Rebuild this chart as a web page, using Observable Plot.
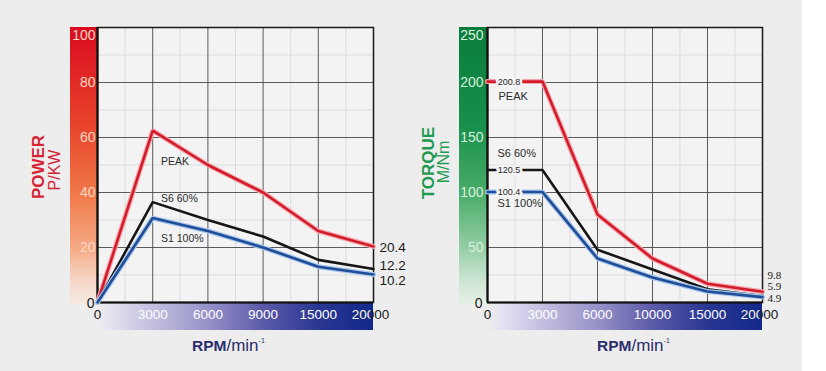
<!DOCTYPE html>
<html>
<head>
<meta charset="utf-8">
<script src="https://cdn.jsdelivr.net/npm/d3@7"></script>
<script src="https://cdn.jsdelivr.net/npm/@observablehq/plot@0.6"></script>
<style>
  body { margin: 0; background: #ffffff; font-family: "Liberation Sans", Arial, sans-serif; }
  #wrap { position: relative; width: 826px; height: 371px; overflow: hidden; }
  #bg { position: absolute; left: 0; top: 0; width: 802px; height: 371px; background: #ededed; }
  .panel { position: absolute; top: 0; }
  .rot { position: absolute; white-space: nowrap; transform: translate(-50%, -50%) rotate(-90deg); line-height: 1; }
  .rpm { position: absolute; white-space: nowrap; color: #2b2d6e; line-height: 18px; height: 18px; }
  .rpm b { font-size: 15.5px; font-weight: bold; }
  .rpm span { font-size: 17px; }
  .rpm sup { font-size: 7px; vertical-align: baseline; position: relative; top: -8px; }
</style>
</head>
<body>
<div id="wrap">
  <div id="bg"></div>
  <div id="left" class="panel" style="left:0px"></div>
  <div id="right" class="panel" style="left:413px"></div>
  <div class="rot" style="left:38px; top:167px; color:#d62435; font-weight:bold; font-size:17px;">POWER</div>
  <div class="rot" style="left:54.5px; top:170px; color:#d62435; font-size:16px;">P/KW</div>
  <div class="rot" style="left:428px; top:163px; color:#1f9a52; font-weight:bold; font-size:17px;">TORQUE</div>
  <div class="rot" style="left:444px; top:162px; color:#1f9a52; font-size:16px;">M/Nm</div>
  <div class="rpm" style="left:192px; top:337px;"><b>RPM</b><span>/min</span><sup>-1</sup></div>
  <div class="rpm" style="left:597px; top:337px;"><b>RPM</b><span>/min</span><sup>-1</sup></div>
</div>
<script>
// ---------- data ----------
const powerXLabels = ["0", "3000", "6000", "9000", "15000", "20000"];
const powerYTicks = [0, 20, 40, 60, 80, 100];
const powerPeak = [0, 62.5, 50, 40, 26, 20.4];
const powerS6 = [0, 36.5, 30, 24, 15.5, 12.2];
const powerS1 = [0, 30.7, 26, 20, 13, 10.2];
const powerNames = ["PEAK", "S6 60%", "S1 100%"];
const powerEndLabels = ["20.4", "12.2", "10.2"];

const torqueXLabels = ["0", "3000", "6000", "10000", "15000", "20000"];
const torqueYTicks = [0, 50, 100, 150, 200, 250];
const torquePeak = [200.8, 200.8, 80, 40, 17, 9.8];
const torqueS6 = [120.5, 120.5, 48, 30, 12, 5.9];
const torqueS1 = [100.4, 100.4, 40, 22.7, 10, 4.9];
const torqueNames = ["PEAK", "S6 60%", "S1 100%"];
const torqueEndLabels = ["9.8", "5.9", "4.9"];
const torqueInlineLabels = ["200.8", "120.5", "100.4"];

// ---------- styling ----------
const seriesColors = ["#d21c2a", "#161616", "#1f4d98"];
const haloColors = ["#f4a7b0", null, "#a9c6ec"];
const FONT = "Liberation Sans, Arial, sans-serif";
const PLOT_BG = "#f3f3f3";

function toPts(vals) { return vals.map((v, i) => ({i, v})); }

function panel(cfg) {
  const W = 413, H = 371;
  const {xLabels, yTicks, seriesVals, mL, mR, id} = cfg;
  const n = xLabels.length - 1;
  const yMax = yTicks[yTicks.length - 1];
  const yStep = yTicks[1] - yTicks[0];
  const marks = [
    Plot.frame({fill: PLOT_BG}),
    Plot.ruleX(d3.range(0.5, n, 1), {stroke: "#d2d2d2", strokeWidth: 0.7}),
    Plot.ruleY(d3.range(yStep / 2, yMax, yStep), {stroke: "#d2d2d2", strokeWidth: 0.7}),
    Plot.ruleX(d3.range(1, n), {stroke: "#4a4a4a", strokeWidth: 0.9}),
    Plot.ruleY(yTicks.slice(1, -1), {stroke: "#4a4a4a", strokeWidth: 0.9}),
    Plot.frame({stroke: "#1a1a1a", strokeWidth: 1.5}),
    Plot.ruleX([0], {stroke: "#111", strokeWidth: 2.2}),
    Plot.ruleY([0], {stroke: "#111", strokeWidth: 2.2})
  ];
  seriesVals.forEach((vals, k) => {
    if (haloColors[k]) marks.push(Plot.line(toPts(vals), {x: "i", y: "v", stroke: haloColors[k], strokeWidth: 5, strokeLinejoin: "miter"}));
    marks.push(Plot.line(toPts(vals), {x: "i", y: "v", stroke: seriesColors[k], strokeWidth: 2.6, strokeLinejoin: "miter"}));
  });
  cfg.names.forEach((name, k) => {
    marks.push(Plot.text([name], {x: () => cfg.namePos[k][0], y: () => cfg.namePos[k][1], text: d => d,
      textAnchor: "start", fill: "#2a2a2a", fontSize: cfg.nameFont, fontFamily: FONT}));
  });
  if (cfg.inline) {
    cfg.inline.forEach((lab, k) => {
      marks.push(Plot.text([lab], {x: () => 0.39, y: () => seriesVals[k][0], text: d => d,
        fill: "#2a2a2a", stroke: PLOT_BG, strokeWidth: 5, fontSize: 9, fontFamily: FONT}));
    });
  }
  cfg.endLabels.forEach((lab, k) => {
    marks.push(Plot.text([lab], {x: () => n, y: () => seriesVals[k][n], text: d => d,
      textAnchor: "start", dx: cfg.endDx, dy: cfg.endDy[k], fill: "#1a1a1a",
      fontSize: cfg.endFont, fontFamily: cfg.endFamily, letterSpacing: cfg.endSpacing}));
  });
  marks.push(Plot.text(yTicks.filter(t => t > 0 && t < yMax), {y: d => d, text: d => String(d), frameAnchor: "left",
    textAnchor: "end", dx: cfg.yDx, fill: cfg.yTickFill, fontSize: 14, fontFamily: FONT}));
  marks.push(Plot.text([yMax], {y: d => d, text: d => String(d), frameAnchor: "left",
    textAnchor: "end", dx: cfg.yDx, dy: 8, fill: cfg.yTickFill, fontSize: 14, fontFamily: FONT}));
  marks.push(Plot.text([0], {y: d => d, text: d => String(d), frameAnchor: "left",
    textAnchor: "end", dx: cfg.yDx - 1, dy: 1, fill: "#1a1a1a", fontSize: 14, fontFamily: FONT}));
  marks.push(Plot.text([xLabels[0]], {x: () => 0, text: d => d, frameAnchor: "bottom", dy: 16,
    fill: "#1a1a1a", fontSize: 13.5, fontFamily: FONT}));
  marks.push(Plot.text([xLabels[n]], {x: () => n, text: d => d, frameAnchor: "bottom", dy: 16, dx: -3,
    fill: "#1a1a1a", fontSize: 13.5, fontFamily: FONT}));
  marks.push(Plot.text(xLabels.slice(1, n), {x: (d, i) => i + 1, text: d => d, frameAnchor: "bottom", dy: 16,
    fill: "#fffffe", fontSize: 13.5, fontFamily: FONT}));
  marks.push(Plot.text([xLabels[n]], {x: () => n, text: d => d, frameAnchor: "bottom", dy: 16, dx: -3,
    fill: "#fffffe", fontSize: 13.5, fontFamily: FONT}));

  const svg = Plot.plot({
    width: W, height: H,
    marginLeft: mL, marginRight: mR, marginTop: 27, marginBottom: 69,
    x: {domain: [0, n], axis: null},
    y: {domain: [0, yMax], axis: null},
    style: {background: "transparent", fontFamily: FONT, overflow: "visible"},
    marks
  });

  const s = d3.select(svg);
  const defs = s.insert("defs", ":first-child");
  const vg = defs.append("linearGradient").attr("id", id + "-yg").attr("x1", 0).attr("y1", 0).attr("x2", 0).attr("y2", 1);
  cfg.yStops.forEach(([o, c, op]) => vg.append("stop").attr("offset", o).attr("stop-color", c).attr("stop-opacity", op));
  const hg = defs.append("linearGradient").attr("id", id + "-xg").attr("x1", 0).attr("y1", 0).attr("x2", 1).attr("y2", 0);
  [[0, "#e6e4f1", 0], [0.06, "#e2e0f0", 1], [0.2, "#c2bfdf", 1], [0.4, "#9792c8", 1], [0.6, "#5c5ba9", 1], [0.8, "#2a3792", 1], [1, "#13298a", 1]]
    .forEach(([o, c, op]) => hg.append("stop").attr("offset", o).attr("stop-color", c).attr("stop-opacity", op));
  const cp = defs.append("clipPath").attr("id", id + "-clip");
  cp.append("rect").attr("x", 0).attr("y", 0).attr("width", W - mR).attr("height", H);

  const deco = s.insert("g", "defs + *");
  deco.append("rect").attr("x", mL - cfg.bandW).attr("y", 27).attr("width", cfg.bandW).attr("height", H - 69 - 27 + 2)
    .attr("fill", `url(#${id}-yg)`);
  deco.append("rect").attr("x", mL).attr("y", H - 69 + 1).attr("width", W - mR - mL).attr("height", 27)
    .attr("fill", `url(#${id}-xg)`);
  s.selectAll('g[fill="#fffffe"]').attr("clip-path", `url(#${id}-clip)`);
  return svg;
}

document.getElementById("left").appendChild(panel({
  id: "pw",
  xLabels: powerXLabels, yTicks: powerYTicks,
  seriesVals: [powerPeak, powerS6, powerS1],
  mL: 97, mR: 40, bandW: 27, yDx: -2,
  yTickFill: "#fcd9c6",
  yStops: [[0, "#da0a1f", 1], [0.35, "#e8432b", 1], [0.6, "#f07848", 1], [0.8, "#f5aa86", 1], [1, "#fbe8dd", 0.6]],
  names: powerNames, namePos: [[1.15, 51.3], [1.15, 37.8], [1.15, 23.3]], nameFont: 10.5,
  endLabels: powerEndLabels, endDx: 6, endDy: [1, -3, 6], endFont: 13.5, endFamily: FONT, endSpacing: 0
}));

document.getElementById("right").appendChild(panel({
  id: "tq",
  xLabels: torqueXLabels, yTicks: torqueYTicks,
  seriesVals: [torquePeak, torqueS6, torqueS1],
  mL: 74, mR: 64, bandW: 28, yDx: -4,
  yTickFill: "#d9f0de",
  yStops: [[0, "#0a7b3b", 1], [0.35, "#16904b", 1], [0.6, "#4aac69", 1], [0.8, "#95cea5", 1], [1, "#e0f1e4", 0.6]],
  names: torqueNames, namePos: [[0.2, 187], [0.18, 135.5], [0.18, 90]], nameFont: 11,
  inline: torqueInlineLabels,
  endLabels: torqueEndLabels, endDx: 5, endDy: [-16, -9.5, 1.5], endFont: 11, endFamily: "Liberation Serif, serif", endSpacing: "1.2px"
}));
</script>
</body>
</html>
